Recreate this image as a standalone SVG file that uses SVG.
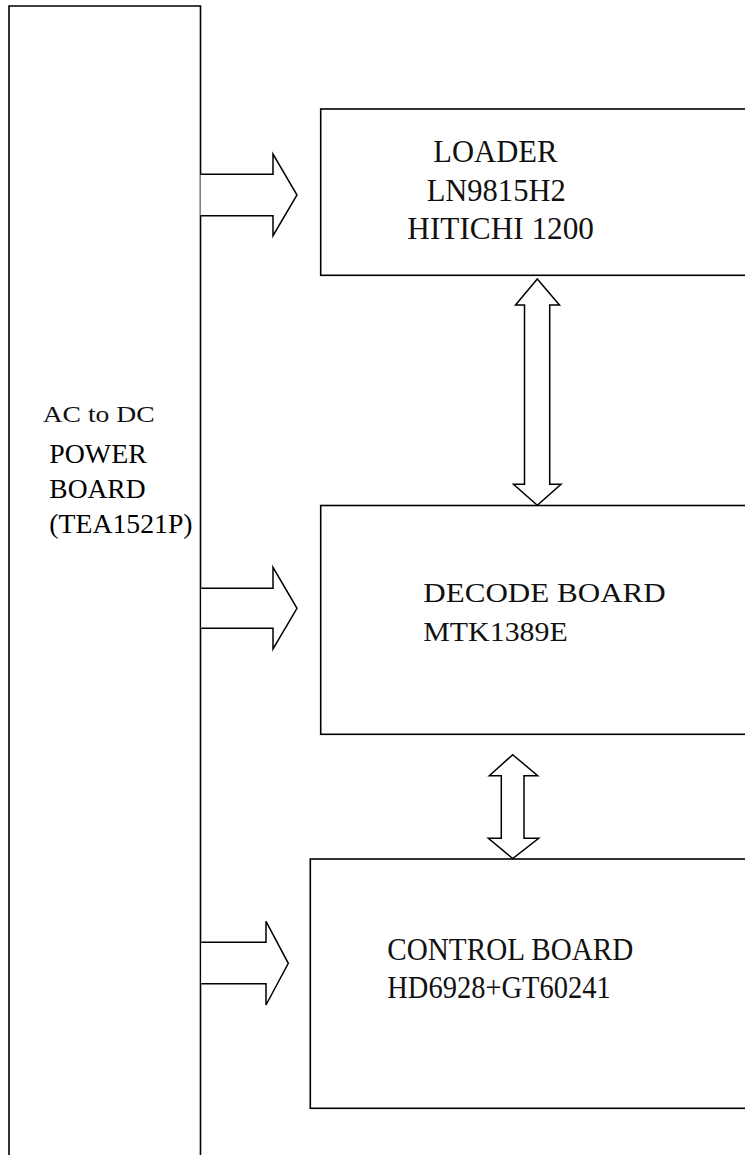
<svg xmlns="http://www.w3.org/2000/svg" width="745" height="1155" viewBox="0 0 745 1155">
<style>
.box{fill:#fff;stroke:#000;stroke-width:1.6}
.arr{fill:#fff;stroke:#000;stroke-width:1.5;stroke-linejoin:miter}
.g{font-family:"Liberation Serif",serif;fill:#111}
.t{font-family:"Liberation Serif",serif;fill:#000}
</style>
<rect width="745" height="1155" fill="#fff"/>
<g id="power">
<path class="box" d="M9,1160 V6 H200.5 V1160"/>
<text class="g" x="42.7" y="422.3" font-size="23.7" textLength="112" lengthAdjust="spacingAndGlyphs">AC to DC</text>
<text class="t" x="49.3" y="463.3" font-size="27.5" textLength="97.4" lengthAdjust="spacingAndGlyphs">POWER</text>
<text class="t" x="49.3" y="497.8" font-size="27.5">BOARD</text>
<text class="t" x="49.3" y="532.7" font-size="27.5" textLength="143.3" lengthAdjust="spacingAndGlyphs">(TEA1521P)</text>
</g>
<g id="loader">
<rect class="box" x="320.7" y="109" width="440" height="166.3"/>
<text class="g" x="433.3" y="162" font-size="31" textLength="124" lengthAdjust="spacingAndGlyphs">LOADER</text>
<text class="g" x="426.7" y="201" font-size="31" textLength="139" lengthAdjust="spacingAndGlyphs">LN9815H2</text>
<text class="g" x="407.3" y="239.3" font-size="31" textLength="186.7" lengthAdjust="spacingAndGlyphs">HITICHI 1200</text>
</g>
<g id="decode">
<rect class="box" x="320.7" y="505.5" width="440" height="228.8"/>
<text class="g" x="423.3" y="601.7" font-size="28" textLength="242.4" lengthAdjust="spacingAndGlyphs">DECODE BOARD</text>
<text class="g" x="423.3" y="641" font-size="28" textLength="144.4" lengthAdjust="spacingAndGlyphs">MTK1389E</text>
</g>
<g id="control">
<rect class="box" x="310.3" y="859" width="450" height="249.3"/>
<text class="g" x="387.3" y="960" font-size="31" textLength="246" lengthAdjust="spacingAndGlyphs">CONTROL BOARD</text>
<text class="g" x="387.3" y="997.7" font-size="31" textLength="223.4" lengthAdjust="spacingAndGlyphs">HD6928+GT60241</text>
</g>
<g id="connectors">
<path class="arr" d="M200.5,174.3 H273 V154 L297,195 L273,235.7 V215.7 H200.5"/>
<path class="arr" d="M201.3,588.3 H273 V567.3 L297,608.3 L273,649 V628.3 H201.3"/>
<path class="arr" d="M201.3,942.3 H266 V921.3 L288.3,963.3 L266,1005 V983.7 H201.3"/>
<path class="arr" d="M537.3,279 L559.5,305 H549.7 V484.3 H561 L537.3,505.3 L513.5,484.3 H524.5 V305 H515.5 Z"/>
<path class="arr" d="M512.7,754.7 L537.7,775.7 H524 V838.3 H538.7 L512.7,858.5 L488.3,838.3 H501.3 V775.7 H489.3 Z"/>
</g>
</svg>
